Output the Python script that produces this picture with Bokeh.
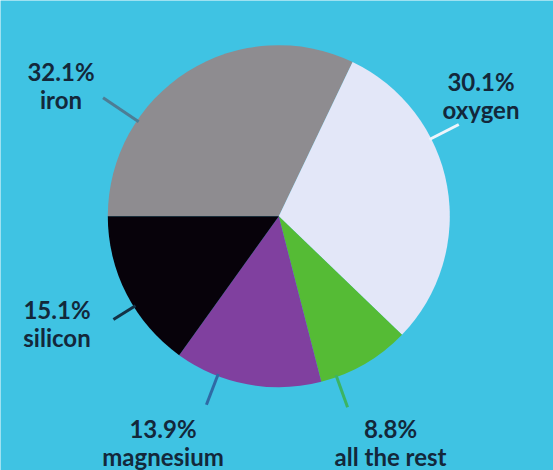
import numpy as np
from bokeh.plotting import figure
from bokeh.models import Range1d, ColumnDataSource
from bokeh.core.properties import value
from bokeh.embed import file_html
from bokeh.resources import INLINE

# ---- data ----
elements = ["iron", "oxygen", "all the rest", "magnesium", "silicon"]
shares = [32.1, 30.1, 8.8, 13.9, 15.1]
slice_colors = ["#8e8c90", "#e3e7f8", "#55bb35", "#80409f", "#07020a"]
leader_colors = ["#4d7d95", "#eef4fb", "#3bb463", "#2f6aa5", "#133246"]

# ---- layout ----
W, H = 553, 470
BG = "#3fc3e3"
cx, cy_page, R = 278.3, 215.7, 171
cy = H - cy_page

# label anchor (page coords: x centre, baseline of first line)
label_x = [60.5, 480.5, 390.0, 162.5, 56.5]
label_base1 = [71.0, 81.0, 428.0, 428.0, 309.0]
line_gap = 28.0
# leader line angles (deg, math orientation) and lengths
leader_ang = [146.0, 27.0, -70.2, -111.0, 212.0]
leader_len = [43, 33, 34, 33, 26]

p = figure(width=W, height=H, output_backend="svg", toolbar_location=None,
           x_range=Range1d(0, W), y_range=Range1d(0, H),
           x_axis_type=None, y_axis_type=None, min_border=0)
p.background_fill_color = BG
p.border_fill_color = BG
p.outline_line_color = None
p.grid.visible = False

frac = np.array(shares) / sum(shares)
cum = np.concatenate([[0], np.cumsum(frac)])
start = np.pi - cum[:-1] * 2 * np.pi
end = np.pi - cum[1:] * 2 * np.pi

src = ColumnDataSource(dict(start=start, end=end, color=slice_colors))
p.wedge(x=cx, y=cy, radius=R, start_angle="start", end_angle="end",
        direction="clock", fill_color="color", line_color=None, source=src)

# leader lines
a = np.radians(leader_ang)
r0 = R - 2
x0 = cx + r0 * np.cos(a)
y0 = cy + r0 * np.sin(a)
x1 = cx + (r0 + np.array(leader_len)) * np.cos(a)
y1 = cy + (r0 + np.array(leader_len)) * np.sin(a)
p.segment(x0=x0, y0=y0, x1=x1, y1=y1, line_color=leader_colors, line_width=3)

# labels
pct = [f"{v}%" for v in shares]
ty1 = [H - b for b in label_base1]
ty2 = [H - b - line_gap for b in label_base1]
font = value("Lato")
for txts, ys in ((pct, ty1), (elements, ty2)):
    p.text(x=label_x, y=ys, text=txts, text_align="center", text_baseline="alphabetic",
           text_font=font, text_font_style="bold", text_font_size="24px",
           text_color="#13283b")

html = file_html(p, INLINE)
html = html.replace("<body>", f'<body style="margin:0;background:{BG};">', 1)
open("out.html", "w").write(html)
